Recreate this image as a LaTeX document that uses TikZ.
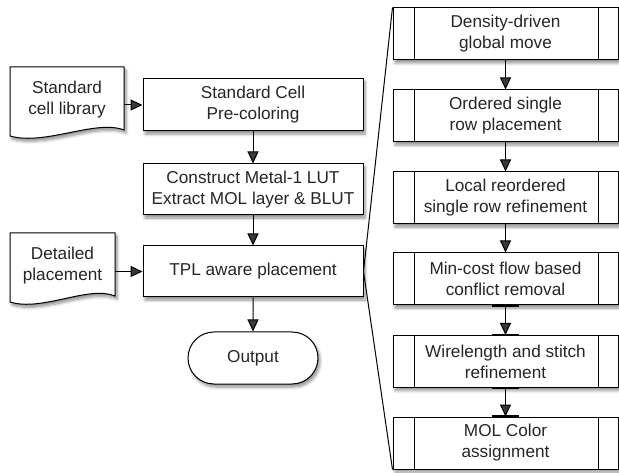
\documentclass[tikz,border=0pt]{standalone}
\usepackage{fontspec}
\setmainfont{Liberation Sans}
\usetikzlibrary{arrows.meta,shadows.blur,shapes.misc}
\begin{document}
\begin{tikzpicture}[x=1pt,y=-1pt,
  txt/.style={font=\fontsize{17.2}{21}\selectfont, text=black!85, align=center},
  shad/.style={blur shadow={shadow xshift=2pt, shadow yshift=-3pt, shadow blur radius=3pt, shadow blur steps=6, shadow opacity=45}},
  box/.style={txt, draw, line width=1pt, fill=white, minimum width=220pt, minimum height=52pt, inner sep=0pt, shad},
  sub/.style={box, minimum width=225pt},
  term/.style={txt, draw, line width=1pt, fill=white, rounded rectangle, minimum width=130pt, minimum height=52pt, inner sep=0pt, shad},
  docnode/.style={txt, inner sep=0pt, minimum height=66pt},
  docshape/.style={draw, line width=1pt, fill=white, shad},
  arr/.style={line width=1pt, -{Triangle[length=12pt,width=11pt]}},
  fan/.style={line width=1pt},
  divider/.style={line width=0.8pt},
  bar/.style={line width=2.5pt}
]
\useasboundingbox (0,0) rectangle (619,473);

% left documents (shapes drawn directly)
\path[docshape] (10,67) -- (124,67) -- (124,130)
  .. controls (96,119) and (45,146) .. (10,136) -- cycle;
\path[docshape] (10,233) -- (115,233) -- (115,296)
  .. controls (89,285) and (42,312) .. (10,302) -- cycle;
\node[docnode, minimum width=114pt] (lib) at (67,100) {Standard\\cell library};
\node[docnode, minimum width=105pt] (det) at (62.5,266) {Detailed\\placement};

% main column
\node[box] (pre) at (253,105) {Standard Cell\\Pre-coloring};
\node[box, minimum height=51pt] (lut) at (253,189.5) {Construct Metal-1 LUT\\Extract MOL layer \& BLUT};
\node[box, minimum height=51pt] (tpl) at (253,271.5) {TPL aware placement};
\node[term] (out) at (253,358) {Output};

\draw[arr] (lib.east |- pre.west) -- (pre.west);
\draw[arr] (det.east |- tpl.west) -- (tpl.west);
\draw[arr] (pre) -- (lut);
\draw[arr] (lut) -- (tpl);
\draw[arr] (tpl) -- (out);

% right column (predefined process boxes)
\node[sub] (s1) at (505.5,34) {Density-driven\\global move};
\node[sub] (s2) at (505.5,116) {Ordered single\\row placement};
\node[sub] (s3) at (505.5,198) {Local reordered\\single row refinement};
\node[sub] (s4) at (505.5,279) {Min-cost flow based\\conflict removal};
\node[sub] (s5) at (505.5,361.5) {Wirelength and stitch\\refinement};
\node[sub] (s6) at (505.5,443) {MOL Color\\assignment};

\foreach \n in {s1,s2,s3,s4,s5,s6}{
  \draw[divider] ([xshift=22pt]\n.north west) -- ([xshift=22pt]\n.south west);
  \draw[divider] ([xshift=-20pt]\n.north east) -- ([xshift=-20pt]\n.south east);
}

\draw[arr] (s1) -- (s2);
\draw[arr] (s2) -- (s3);
\draw[arr] (s3) -- (s4);
\draw[arr] (s4) -- (s5);
\draw[arr] (s5) -- (s6);

\draw[bar] ([xshift=-13.5pt]s4.south) -- ([xshift=13.5pt]s4.south);
\draw[bar] ([xshift=-13.5pt]s5.north) -- ([xshift=13.5pt]s5.north);
\draw[bar] ([xshift=-13.5pt]s5.south) -- ([xshift=13.5pt]s5.south);
\draw[bar] ([xshift=-13.5pt]s6.north) -- ([xshift=13.5pt]s6.north);

% fan lines
\draw[fan] (tpl.east) -- (s1.north west);
\draw[fan] (tpl.east) -- (s6.south west);
\end{tikzpicture}
\end{document}
